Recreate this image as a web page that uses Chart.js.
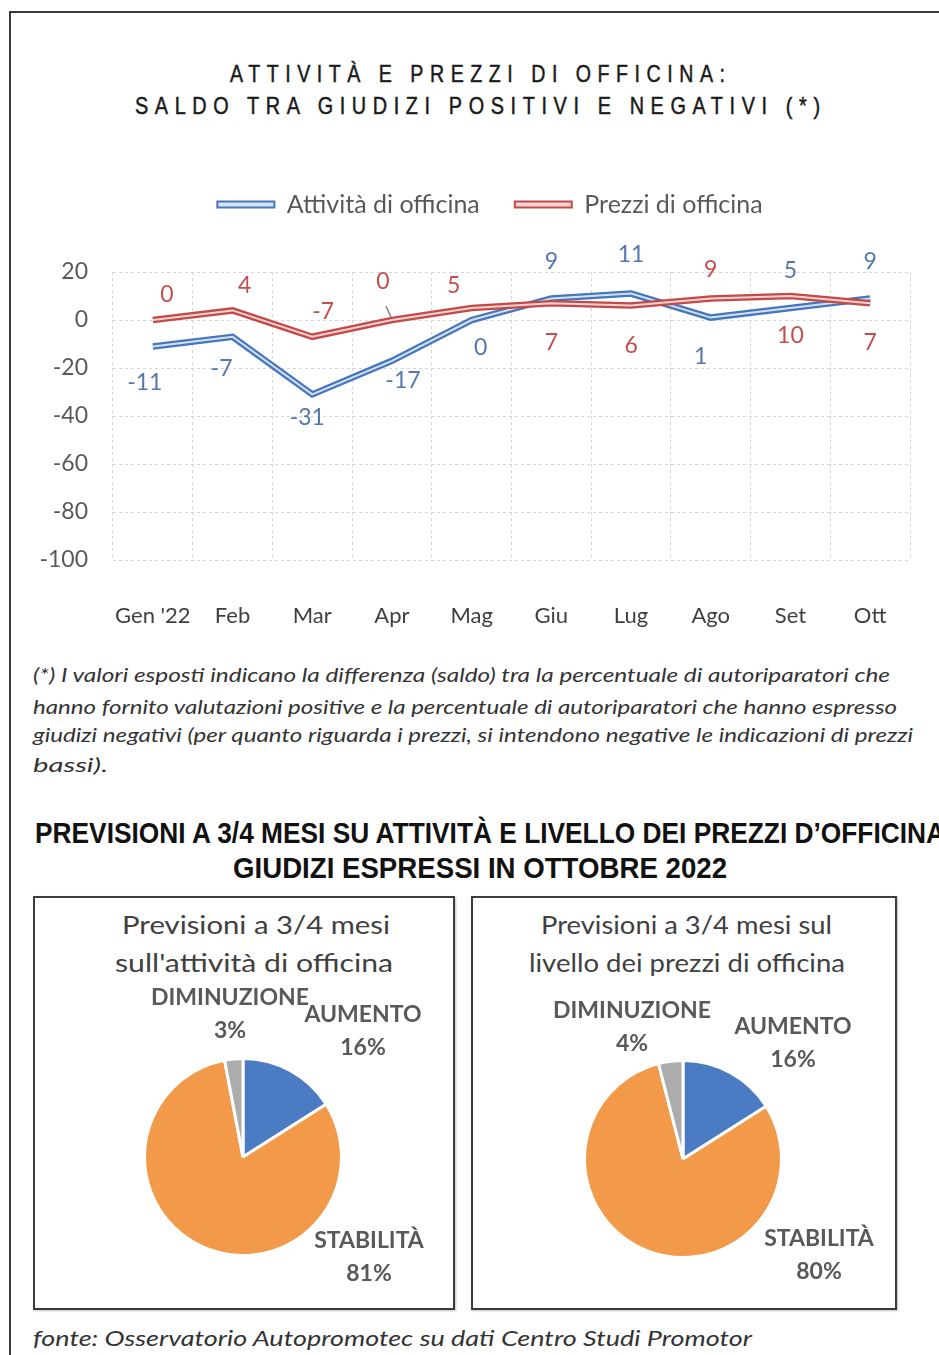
<!DOCTYPE html>
<html><head><meta charset="utf-8">
<script src="https://cdn.jsdelivr.net/npm/chart.js@4.4.1/dist/chart.umd.min.js"></script>
<style>
html,body{margin:0;padding:0;background:#fff;}
body{width:939px;height:1355px;position:relative;overflow:hidden;font-family:Lato,'Noto Sans',sans-serif;}
.t{position:absolute;white-space:nowrap;transform-origin:0 50%;line-height:30px;height:30px;}
.frame{position:absolute;left:9px;top:11px;width:1000px;height:1400px;border:2px solid #3a3a3a;}
.box{position:absolute;border:2px solid #3c3c3c;box-shadow:1px 1px 2px rgba(0,0,0,0.25);box-sizing:border-box;}
.ttl{font-family:'Liberation Sans',Arial,sans-serif;font-size:24px;letter-spacing:8px;color:#1a1a1a;-webkit-text-stroke:0.5px #1a1a1a;}
.fn{font-style:italic;font-size:20px;color:#333;}
.hd{font-family:'Liberation Sans',Arial,sans-serif;font-weight:bold;font-size:30px;color:#111;}
.pt{font-size:25px;color:#404040;}
canvas{position:absolute;}
</style></head><body>
<div class="frame"></div>

<div class="t ttl" style="left:230px;top:59px" data-w="495" data-ls="8">ATTIVITÀ E PREZZI DI OFFICINA:</div>
<div class="t ttl" style="left:135px;top:91px" data-w="685" data-ls="8">SALDO TRA GIUDIZI POSITIVI E NEGATIVI (*)</div>

<canvas id="lineChart" width="939" height="493" style="left:0;top:157px"></canvas>

<div class="t fn" style="left:33px;top:659px" data-w="857">(*) I valori esposti indicano la differenza (saldo) tra la percentuale di autoriparatori che</div>
<div class="t fn" style="left:33px;top:691px" data-w="864">hanno fornito valutazioni positive e la percentuale di autoriparatori che hanno espresso</div>
<div class="t fn" style="left:33px;top:719px" data-w="880">giudizi negativi (per quanto riguarda i prezzi, si intendono negative le indicazioni di prezzi</div>
<div class="t fn" style="left:33px;top:749px" data-w="75">bassi).</div>

<div class="t hd" style="left:35px;top:818px" data-w="910">PREVISIONI A 3/4 MESI SU ATTIVITÀ E LIVELLO DEI PREZZI D’OFFICINA</div>
<div class="t hd" style="left:233px;top:853px" data-w="494">GIUDIZI ESPRESSI IN OTTOBRE 2022</div>

<div class="box" style="left:33px;top:896px;width:422px;height:414px"></div>
<div class="box" style="left:471px;top:896px;width:426px;height:414px"></div>

<div class="t pt" style="left:122px;top:909px" data-w="268">Previsioni a 3/4 mesi</div>
<div class="t pt" style="left:115px;top:947px" data-w="278">sull'attività di officina</div>
<div class="t pt" style="left:541px;top:909px" data-w="291">Previsioni a 3/4 mesi sul</div>
<div class="t pt" style="left:529px;top:947px" data-w="316">livello dei prezzi di officina</div>

<canvas id="pie1" width="418" height="410" style="left:35px;top:898px"></canvas>
<canvas id="pie2" width="422" height="410" style="left:473px;top:898px"></canvas>

<div class="t fn" style="left:33px;top:1323px;font-size:22px" data-w="719">fonte: Osservatorio Autopromotec su dati Centro Studi Promotor</div>

<script>
// ---------- data ----------
const months = ["Gen '22", "Feb", "Mar", "Apr", "Mag", "Giu", "Lug", "Ago", "Set", "Ott"];
const attivita = [-11, -7, -31, -17, 0, 9, 11, 1, 5, 9];
const prezzi = [0, 4, -7, 0, 5, 7, 6, 9, 10, 7];
const yTicks = [20, 0, -20, -40, -60, -80, -100];
const seriesNames = ["Attività di officina", "Prezzi di officina"];

const pieLabels = ["AUMENTO", "STABILITÀ", "DIMINUZIONE"];
const pieAttivita = [16, 81, 3];
const piePrezzi = [16, 80, 4];

// ---------- styles ----------
const BLUE = '#4676bb', BLUE_IN = '#d3e2f5', BLUE_TXT = '#5576ae';
const RED = '#c24b49', RED_IN = '#f6d2d1', RED_TXT = '#c0504d';
const attivitaLabelOffsets = [[-8,36],[-11,32],[-5,23],[11,20],[9,28],[0,-37],[0,-39],[-10,39],[0,-37],[0,-37]];
const prezziLabelOffsets = [[14,-25],[12,-25],[11,-25],[-9,-38],[-18,-22],[0,39],[0,40],[0,-29],[0,40],[0,39]];

// fit html text widths
function fitTexts(){
  document.querySelectorAll('.t').forEach(el => {
    const w = +el.dataset.w; const ls = +(el.dataset.ls || 0);
    el.style.transform = 'none';
    const r = el.getBoundingClientRect().width - ls;
    if (w && r > 0) el.style.transform = 'scaleX(' + (w / r) + ')';
  });
}
fitTexts();

const legendSpacer = {
  id: 'legendSpacer',
  beforeUpdate(chart) {
    const l = chart.legend;
    if (l && !l._patched) {
      const fit = l.fit;
      l.fit = function () { fit.call(this); this.height = 115; };
      const draw = l.draw;
      l.draw = function () {
        this.ctx.save();
        this.ctx.translate(15, 0);
        draw.apply(this, arguments);
        this.ctx.restore();
      };
      l._patched = true;
    }
  }
};

const lineLabels = {
  id: 'lineLabels',
  afterDatasetsDraw(chart) {
    const ctx = chart.ctx;
    ctx.save();
    ctx.font = '23px Lato';
    ctx.textAlign = 'center';
    ctx.textBaseline = 'middle';
    const sets = [
      {ds: 0, offsets: attivitaLabelOffsets, color: BLUE_TXT},
      {ds: 2, offsets: prezziLabelOffsets, color: RED_TXT}
    ];
    sets.forEach(s => {
      const meta = chart.getDatasetMeta(s.ds);
      const vals = chart.data.datasets[s.ds].data;
      meta.data.forEach((pt, i) => {
        const o = s.offsets[i];
        ctx.fillStyle = s.color;
        ctx.fillText(String(vals[i]), pt.x + o[0], pt.y + o[1]);
      });
    });
    // leader line for Prezzi / Apr
    const p = chart.getDatasetMeta(2).data[3];
    ctx.strokeStyle = '#808080';
    ctx.lineWidth = 1.5;
    ctx.beginPath();
    ctx.moveTo(p.x - 6, p.y - 14);
    ctx.lineTo(p.x - 1, p.y - 3);
    ctx.stroke();
    ctx.restore();
  }
};

const tickFont = {family: 'Lato', size: 22};
new Chart(document.getElementById('lineChart'), {
  type: 'line',
  data: {
    labels: months,
    datasets: [
      {label: seriesNames[0], data: attivita, borderColor: BLUE, borderWidth: 6.5, order: 3},
      {label: seriesNames[0], data: attivita, borderColor: BLUE_IN, borderWidth: 2, order: 2},
      {label: seriesNames[1], data: prezzi, borderColor: RED, borderWidth: 6.5, order: 1},
      {label: seriesNames[1], data: prezzi, borderColor: RED_IN, borderWidth: 2, order: 0}
    ]
  },
  options: {
    responsive: false,
    animation: false,
    elements: {point: {radius: 0, hoverRadius: 0}, line: {tension: 0, fill: false}},
    layout: {padding: {left: 40, right: 29, top: 0, bottom: 0}},
    plugins: {
      tooltip: {enabled: false},
      legend: {
        position: 'top',
        labels: {
          font: {family: 'Lato', size: 25},
          color: '#595959',
          boxWidth: 57,
          boxHeight: 6,
          padding: 35,
          generateLabels: () => [
            {text: seriesNames[0], fillStyle: BLUE_IN, strokeStyle: BLUE, lineWidth: 2, hidden: false, datasetIndex: 0, fontColor: '#595959'},
            {text: seriesNames[1], fillStyle: RED_IN, strokeStyle: RED, lineWidth: 2, hidden: false, datasetIndex: 2, fontColor: '#595959'}
          ]
        }
      }
    },
    scales: {
      x: {
        offset: true,
        grid: {offset: true, color: '#d6d6d6', drawTicks: false},
        border: {display: false, dash: [3, 3]},
        ticks: {font: tickFont, color: '#404040', padding: 43, maxRotation: 0, autoSkip: false},
        afterFit(s) { s.height = 90; }
      },
      y: {
        min: -100, max: 20,
        afterBuildTicks(s) { s.ticks = yTicks.map(v => ({value: v})); },
        grid: {color: '#d6d6d6', drawTicks: false},
        border: {display: false, dash: [3, 3]},
        ticks: {font: {family: 'Lato', size: 23}, color: '#595959', padding: 25},
        afterFit(s) { s.width = 73; }
      }
    }
  },
  plugins: [legendSpacer, lineLabels]
});

const pieLabelPlugin = {
  id: 'pieLabels',
  afterDatasetsDraw(chart, args, opts) {
    const arc = chart.getDatasetMeta(0).data[0];
    const cx = arc.x, cy = arc.y;
    const ctx = chart.ctx;
    ctx.save();
    ctx.font = 'bold 23px Lato';
    ctx.fillStyle = '#595959';
    ctx.textAlign = 'center';
    ctx.textBaseline = 'middle';
    chart.data.labels.forEach((lab, i) => {
      const o = opts.offsets[i];
      ctx.fillText(lab, cx + o[0], cy + o[1]);
      ctx.fillText(chart.data.datasets[0].data[i] + '%', cx + o[0], cy + o[1] + 33);
    });
    ctx.restore();
  }
};

function makePie(id, values, padding, offsets) {
  new Chart(document.getElementById(id), {
    type: 'pie',
    data: {
      labels: pieLabels,
      datasets: [{data: values, backgroundColor: ['#4a7bc3', '#f39a4a', '#acacac'], borderColor: '#ffffff', borderWidth: 3}]
    },
    options: {
      responsive: false,
      animation: false,
      layout: {padding: padding},
      plugins: {legend: {display: false}, tooltip: {enabled: false}, pieLabels: {offsets: offsets}}
    },
    plugins: [pieLabelPlugin]
  });
}
makePie('pie1', pieAttivita, {left: 108, right: 110, top: 159, bottom: 51}, [[120, -142], [126, 84], [-13, -159]]);
makePie('pie2', piePrezzi, {left: 110, right: 112, top: 161, bottom: 49}, [[110, -132], [136, 80], [-51, -148]]);
</script>
</body></html>
